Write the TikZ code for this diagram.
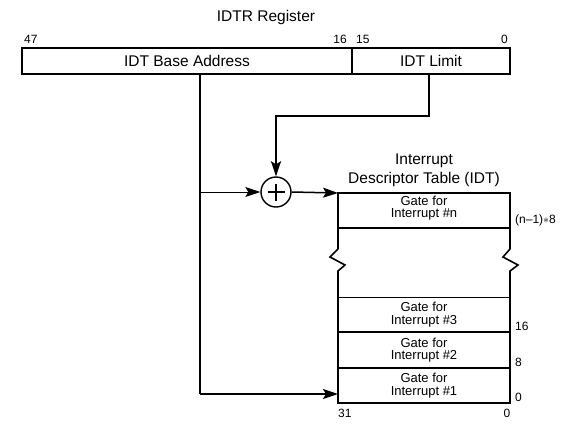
\documentclass[tikz,border=0pt]{standalone}
\usepackage{fontspec}
\setmainfont{Liberation Sans}
\usetikzlibrary{arrows.meta,calc}
\begin{document}
\begin{tikzpicture}[x=1pt,y=-1pt,
  big/.style={font=\fontsize{15.5}{19}\selectfont, inner sep=0pt},
  num/.style={font=\fontsize{12}{13}\selectfont, inner sep=0pt},
  gate/.style={font=\fontsize{13}{12.5}\selectfont, align=center, inner sep=0pt},
  regbox/.style={draw, line width=2pt, minimum height=26pt, inner sep=0pt, big},
  arr/.style={-{Stealth[length=15pt,width=10pt,inset=3pt]}},
  heavy/.style={line width=2pt},
  light/.style={line width=1pt}
]
\useasboundingbox (0,0) rectangle (574,424);
% register
\node[big] (title) at (266,17) {IDTR Register};
\node[num, anchor=west] (b47) at (24,39) {47};
\node[num, anchor=east] (b16) at (347,39) {16};
\node[num, anchor=west] (b15) at (356,39) {15};
\node[num, anchor=east] (b0) at (508,39) {0};
\node[regbox, minimum width=330pt] (base) at (187,61) {IDT Base Address};
\node[regbox, minimum width=158pt] (limit) at (431,61) {IDT Limit};
% adder
\node[draw, circle, line width=1.4pt, minimum size=30pt, inner sep=0pt] (sum) at (276,192) {};
\draw[heavy] ($(sum.center)+(-8.5,0)$) -- ($(sum.center)+(8.5,0)$);
\draw[heavy] ($(sum.center)+(0,-8.5)$) -- ($(sum.center)+(0,8.5)$);
% table
\coordinate (ttl) at (338,193);
\coordinate (tbl) at (338,394);
\draw[line width=1.6pt] (338,249) -- (338,193) -- (510,193) -- (510,249)
  -- (503,257) -- (518,265) -- (510,271) -- (510,403) -- (338,403)
  -- (338,271) -- (345,265) -- (330,257) -- (338,249);
\draw[line width=1.6pt] (338,228) -- (510,228);
\draw[line width=0.8pt] (338,297) -- (510,297);
\draw[line width=1.2pt] (338,332) -- (510,332);
\draw[line width=1.2pt] (338,368) -- (510,368);
\node[big, align=center] (idt) at (424,170) {Interrupt\\Descriptor Table (IDT)};
\node[gate] (gn) at (424,208) {Gate for\\Interrupt \#n};
\node[gate] (g3) at (424,314.5) {Gate for\\Interrupt \#3};
\node[gate] (g2) at (424,350) {Gate for\\Interrupt \#2};
\node[gate] (g1) at (424,385.5) {Gate for\\Interrupt \#1};
\node[num, anchor=west] (on) at (515,220) {(n–1)$\ast$8};
\node[num, anchor=west] (o16) at (515,326) {16};
\node[num, anchor=west] (o8) at (515,362) {8};
\node[num, anchor=west] (o0) at (515,397) {0};
\node[num, anchor=west] (t31) at (338,413) {31};
\node[num] (t0) at (507,413) {0};
% connectors
\coordinate (bdown) at (200,74);
\coordinate (bbranch) at (200,192);
\coordinate (bcorner) at (200,394);
\coordinate (ldown) at (429,74);
\coordinate (lcorner1) at (429,116);
\coordinate (lcorner2) at (276,116);
\draw[heavy] (bdown) -- (bcorner);
\draw[heavy, arr] (bcorner) -- (tbl);
\draw[light, arr] (bbranch) -- (sum.west);
\draw[heavy, arr] (ldown) -- (lcorner1) -- (lcorner2) -- (sum.north);
\draw[line width=1.5pt, arr] (sum.east) -- (ttl);
\end{tikzpicture}
\end{document}
